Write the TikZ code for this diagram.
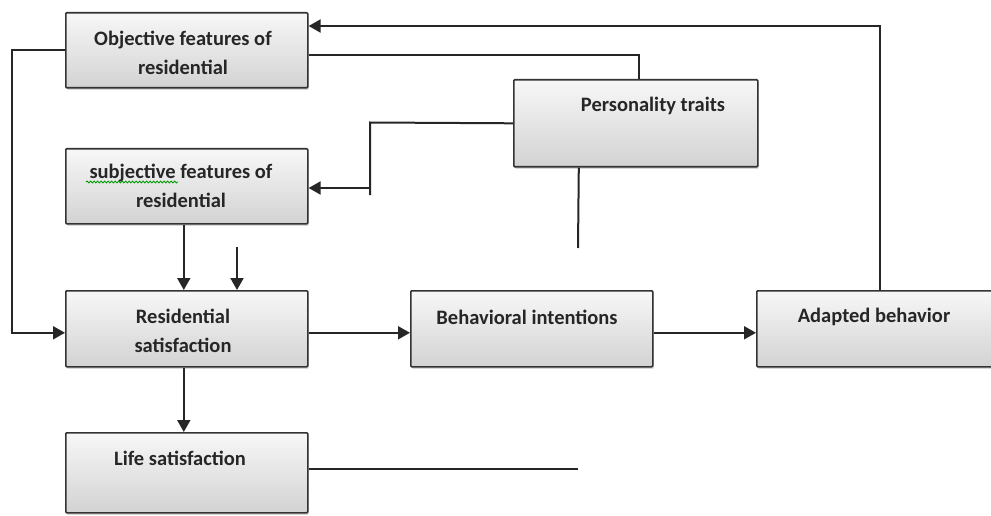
\documentclass[tikz,border=0pt]{standalone}
\usepackage{fontspec}
\setmainfont{Carlito}
\usetikzlibrary{arrows.meta,calc,positioning,shadows,decorations.pathmorphing}
\tikzset{box/.style={draw=black!80,line width=1.6pt,rounded corners=1pt,
           top color=gray!6,bottom color=gray!35,anchor=north west,inner sep=0pt,
           minimum width=242pt,minimum height=75pt,
           drop shadow={shadow xshift=1pt,shadow yshift=-2pt,opacity=0.3}},
         conn/.style={draw=black!85,line width=2pt},
         arr/.style={conn,-{Triangle[length=12pt,width=13pt]}},
         lbl/.style={font=\fontsize{20.5}{28.5}\selectfont\bfseries,text=black!85,
           align=center,inner sep=0pt}}

\begin{document}
\begin{tikzpicture}[x=1pt,y=-1pt]
\useasboundingbox (0,0) rectangle (991,516);
% boxes
\node[box] (obj) at (65,12) {};
\node[box] (subj) at (65,148) {};
\node[box,minimum height=76pt] (res) at (65,290) {};
\node[box,minimum height=80pt] (life) at (65,432) {};
\node[box,minimum height=76pt] (beh) at (410,290) {};
\node[box,minimum height=76pt] (adapt) at (756,290) {};
\node[box,minimum width=244pt,minimum height=87pt] (pers) at (513,79) {};
% texts
\node[lbl] (objT) at (183,53) {Objective features of\\residential};
\node[lbl] (subjT) at (181,186) {subjective features of\\residential};
\node[lbl] (resT) at (183,331) {Residential\\satisfaction};
\node[lbl] (lifeT) at (180,458) {Life satisfaction};
\node[lbl] (behT) at (527,317) {Behavioral intentions};
\node[lbl] (adaptT) at (874,317) {Adapted behavior};
\node[lbl] (persT) at (653,106) {Personality traits};
% spell-check mark
\draw[green!60!black,line width=0.9pt,decorate,
  decoration={snake,amplitude=0.9pt,segment length=3.5pt}] (86,182) -- (178,182);
% free ends
\coordinate (pbend) at (370,122.5);
\coordinate (pend) at (370,195);
\coordinate (sjoin) at (370,188);
\coordinate (pdrop) at (578,248);
\coordinate (rtop) at (237,247);
\coordinate (lend) at (578,469);
\coordinate (lloop) at (12,49);
\coordinate (ttop) at (880,26);
% connectors
\draw[arr] (adapt.north -| ttop) -- (ttop) -- (ttop -| obj.east);
\draw[conn] ([yshift=-5pt]obj.east) -| ([xshift=3pt]pers.north);
\draw[conn] (pers.west) -- (pbend) -- (pend);
\draw[arr] (sjoin) -- (sjoin -| subj.east);
\draw[conn] ([xshift=-57pt]pers.south) -- (pdrop);
\draw[arr] ([xshift=-3pt]subj.south) -- ([xshift=-3pt]res.north);
\draw[arr] (rtop) -- (rtop |- res.north);
\draw[arr] (obj.west) -- (obj.west -| lloop) |- ([yshift=-4pt]res.west);
\draw[arr] ([yshift=-4pt]res.east) -- ([yshift=-4pt]beh.west);
\draw[arr] ([yshift=-4pt]beh.east) -- ([yshift=-4pt]adapt.west);
\draw[arr] ([xshift=-3pt]res.south) -- ([xshift=-3pt]life.north);
\draw[conn] (life.east |- lend) -- (lend);
\end{tikzpicture}
\end{document}
